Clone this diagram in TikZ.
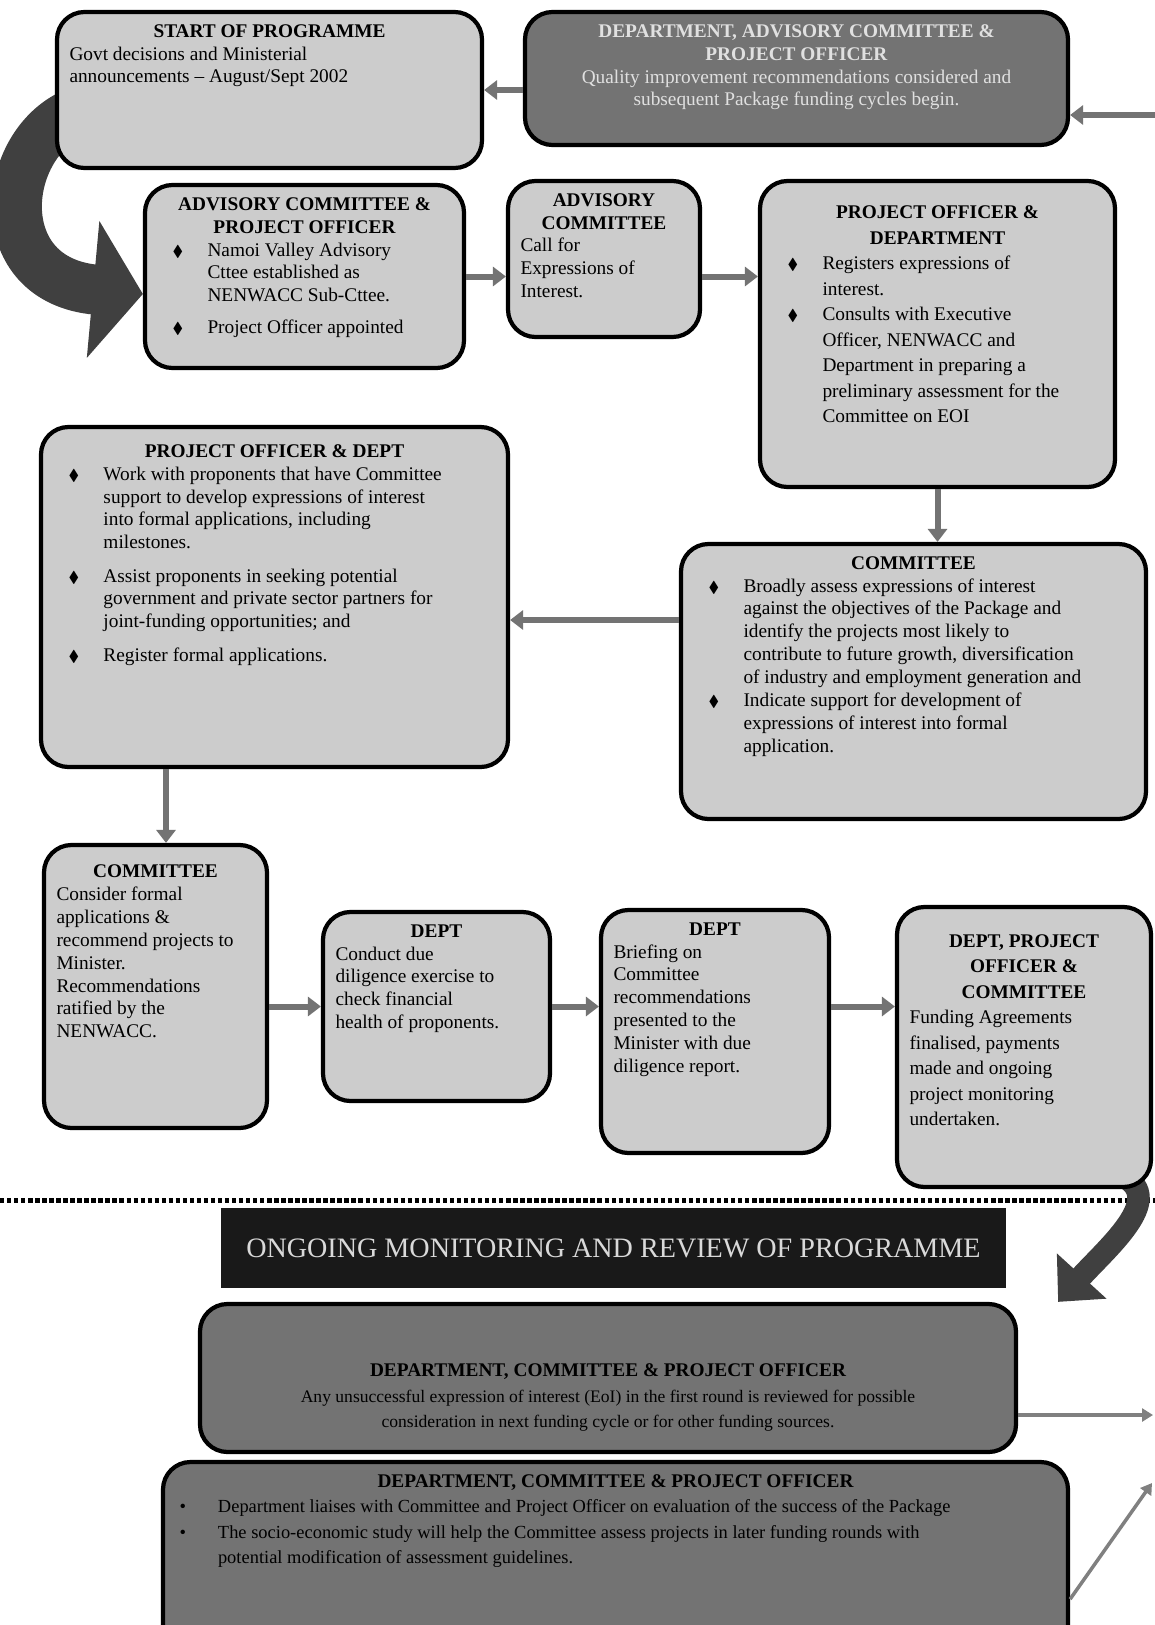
\documentclass[tikz,border=0pt]{standalone}
\usepackage{amssymb}
\usepackage{fontspec}
\setmainfont{Liberation Serif}
\usetikzlibrary{arrows.meta, positioning, calc}

\pgfdeclarelayer{paper}
\pgfdeclarelayer{background}
\pgfsetlayers{paper,background,main}

% text block of a card: width, height, content (top aligned)
\newcommand{\cbody}[3]{\parbox[c][#2][t]{#1}{\raggedright\let\\\newline #3}}
\newcommand{\ctitle}[1]{{\centering\bfseries #1\par}}
\newcommand{\dia}[1][0pt]{\par\vspace{#1}\hangindent=1cm\hangafter=1\noindent\hspace*{0.3cm}\makebox[0.7cm][l]{\small$\blacklozenge$}\ignorespaces}
\newcommand{\bul}{\par\hangindent=0.85cm\hangafter=1\noindent\makebox[0.85cm][l]{\hspace*{0.08cm}\textbullet}\ignorespaces}

\begin{document}
\begin{tikzpicture}[
        card/.style={draw=black, line width=2.4pt, rounded corners=0.55cm, fill=gray!40,
            inner sep=0.25cm, font=\fontsize{11}{13}\selectfont},
        darkcard/.style={card, fill=black!55},
        banner/.style={fill=black!90, inner sep=0pt, minimum width=15.7cm,
            minimum height=1.6cm, text=gray!30, font=\fontsize{16}{18}\selectfont},
        flow/.style={draw=black!55, line width=0.12cm, -{Triangle[length=0.26cm,width=0.38cm]}},
        feedback/.style={draw=black!50, line width=0.07cm, -{Triangle[length=0.22cm,width=0.26cm]}},
        bigbend/.style={draw=black!75, line cap=butt}
    ]

    % Page
    \begin{pgfonlayer}{paper}
        \fill[white] (0,0) rectangle (23.1,-32.5);
    \end{pgfonlayer}
    \useasboundingbox (0,0) rectangle (23.1,-32.5);

    % Top row
    \node[card] (start) at (5.39,-1.8) {\cbody{8cm}{2.62cm}{\ctitle{START OF PROGRAMME}
        Govt decisions and Ministerial\\announcements -- August/Sept 2002}};
    \node[darkcard, text=black!12] (dept) at (15.93,-1.57) {\cbody{10.36cm}{2.16cm}{\centering
        \textbf{DEPARTMENT, ADVISORY COMMITTEE \&\\PROJECT OFFICER}\\
        Quality improvement recommendations considered and\\subsequent Package funding cycles begin.}};

    % Second row
    \node[card] (acpo) at (6.09,-5.53) {\cbody{5.88cm}{3.16cm}{\ctitle{ADVISORY COMMITTEE \&\\PROJECT OFFICER}
        \dia Namoi Valley Advisory\\Cttee established as\\NENWACC Sub-Cttee.
        \dia[5pt] Project Officer appointed}};
    \node[card] (ac) at (12.08,-5.18) {\cbody{3.34cm}{2.62cm}{\ctitle{ADVISORY\\COMMITTEE}
        Call for\\Expressions of\\Interest.}};
    \node[card, font=\fontsize{11}{14.5}\selectfont] (pod) at (18.75,-6.68) {\cbody{6.6cm}{5.62cm}{\vspace*{0.25cm}
        \ctitle{PROJECT OFFICER \&\\DEPARTMENT}
        \dia Registers expressions of\\interest.
        \dia Consults with Executive\\Officer, NENWACC and\\Department in preparing a\\preliminary assessment for the\\Committee on EOI}};

    % Third row
    \node[card] (pod2) at (5.49,-11.94) {\cbody{8.84cm}{6.3cm}{\vspace*{0.1cm}\ctitle{PROJECT OFFICER \& DEPT}
        \dia Work with proponents that have Committee\\support to develop expressions of interest\\into formal applications, including\\milestones.
        \dia[6pt] Assist proponents in seeking potential\\government and private sector partners for\\joint-funding opportunities; and
        \dia[6pt] Register formal applications.}};
    \node[card] (com1) at (18.27,-13.63) {\cbody{8.8cm}{5cm}{\ctitle{COMMITTEE}
        \dia Broadly assess expressions of interest\\against the objectives of the Package and\\identify the projects most likely to\\contribute to future growth, diversification\\of industry and employment generation and
        \dia Indicate support for development of\\expressions of interest into formal\\application.}};

    % Fourth row
    \node[card] (com2) at (3.11,-19.73) {\cbody{3.96cm}{5.16cm}{\vspace*{0.15cm}\ctitle{COMMITTEE}
        Consider formal\\applications \&\\recommend projects to\\Minister.\\Recommendations\\ratified by the\\NENWACC.}};
    \node[card] (dept1) at (8.73,-20.13) {\cbody{4.04cm}{3.28cm}{\ctitle{DEPT}
        Conduct due\\diligence exercise to\\check financial\\health of proponents.}};
    \node[card] (dept2) at (14.3,-20.63) {\cbody{4.06cm}{4.36cm}{\ctitle{DEPT}
        Briefing on\\Committee\\recommendations\\presented to the\\Minister with due\\diligence report.}};
    \node[card, font=\fontsize{11}{14.5}\selectfont] (dpc) at (20.48,-20.94) {\cbody{4.58cm}{5.1cm}{\vspace*{0.3cm}
        \ctitle{DEPT, PROJECT\\OFFICER \&\\COMMITTEE}
        Funding Agreements\\finalised, payments\\made and ongoing\\project monitoring\\undertaken.}};

    % Review section
    \node[banner] (ongoing) at (12.27,-24.96) {ONGOING MONITORING AND REVIEW OF PROGRAMME};
    \node[darkcard, font=\fontsize{10}{14.5}\selectfont] (rev1) at (12.16,-27.56) {\cbody{15.82cm}{2.46cm}{\vspace*{0.95cm}\centering
        {\fontsize{11}{13}\selectfont\bfseries DEPARTMENT, COMMITTEE \& PROJECT OFFICER}\\
        Any unsuccessful expression of interest (EoI) in the first round is reviewed for possible\\
        consideration in next funding cycle or for other funding sources.}};
    \node[darkcard, font=\fontsize{10.5}{14.5}\selectfont] (rev2) at (12.31,-31.22) {\cbody{17.6cm}{3.46cm}{%
        \ctitle{\fontsize{11}{13}\selectfont DEPARTMENT, COMMITTEE \& PROJECT OFFICER}
        \bul Department liaises with Committee and Project Officer on evaluation of the success of the Package
        \bul The socio-economic study will help the Committee assess projects in later funding rounds with\\
        potential modification of assessment guidelines.}};

    % Separator and curved block arrows, behind the cards
    \begin{pgfonlayer}{background}
        \coordinate (sepL) at (0,-24.0);
        \coordinate (sepR) at (23.1,-24.0);
        \draw[line width=0.1cm, dash pattern=on 2.5pt off 1.5pt] (sepL) -- (sepR);
        \draw[bigbend, line width=1cm, -{Triangle[length=1cm,width=2.7cm]}]
            ([shift={(0.3,-0.5)}]start.west) .. controls (0.0,-3.0) and (-0.2,-5.6) .. ([yshift=-0.35cm]acpo.west);
        \draw[bigbend, line width=0.45cm, -{Triangle[length=0.7cm,width=1.3cm]}]
            ([shift={(-0.7,0.3)}]dpc.south east) .. controls (23.4,-23.9) and (22.2,-24.9) .. ([xshift=0.8cm]rev1.north east);
    \end{pgfonlayer}

    % Flow between cards
    \draw[flow] (dept.west |- start.east) -- (start.east);
    \coordinate (fbTop) at (23.1,-2.3);
    \draw[flow] (fbTop) -- (fbTop -| dept.east);
    \draw[flow] (acpo.east) -- (acpo.east -| ac.west);
    \draw[flow] (ac.east |- acpo.east) -- (pod.west |- acpo.east);
    \draw[flow] (pod.south) -- (pod.south |- com1.north);
    \coordinate (m1) at (12,-12.4);
    \draw[flow] (m1 -| com1.west) -- (m1 -| pod2.east);
    \coordinate (m2) at (3.32,-16);
    \draw[flow] (m2 |- pod2.south) -- (m2 |- com2.north);
    \draw[flow] (com2.east |- dept1.east) -- (dept1.west);
    \draw[flow] (dept1.east) -- (dept1.east -| dept2.west);
    \draw[flow] (dept2.east |- dept1.east) -- (dpc.west |- dept1.east);

    % Feedback to the top of the page
    \coordinate (fbMid) at (23.06,-28.3);
    \draw[feedback] (rev1.east |- fbMid) -- (fbMid);
    \coordinate (fbLow) at (23.04,-29.66);
    \draw[feedback] ([yshift=1.26cm]rev2.south east) -- (fbLow);

\end{tikzpicture}
\end{document}
